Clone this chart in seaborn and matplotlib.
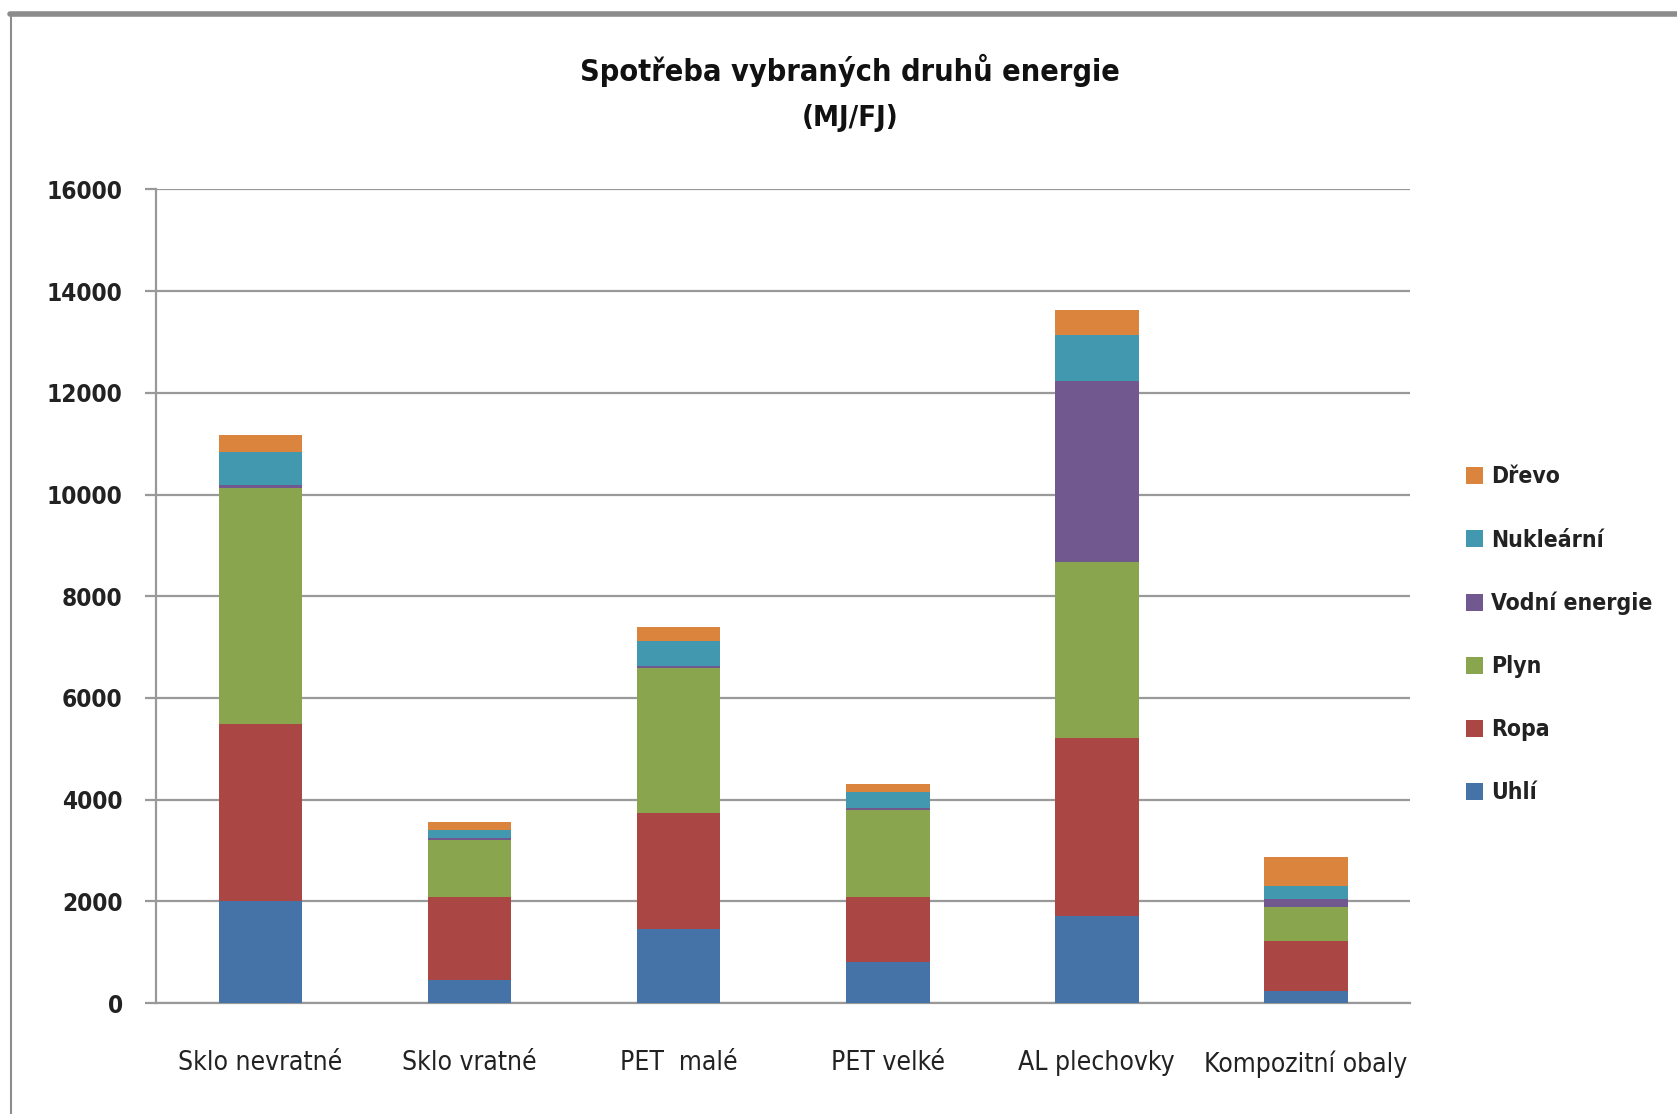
import numpy as np
import pandas as pd
import matplotlib
matplotlib.use("Agg")
import matplotlib.pyplot as plt
import seaborn as sns
from matplotlib.patches import Patch
from matplotlib.lines import Line2D

categories = ["Sklo nevratné", "Sklo vratné", "PET  malé", "PET velké", "AL plechovky", "Kompozitní obaly"]
uhli = [2010, 460, 1450, 800, 1720, 230]
ropa = [3480, 1620, 2280, 1290, 3500, 990]
plyn = [4640, 1125, 2850, 1710, 3450, 675]
vodni = [60, 40, 50, 40, 3560, 155]
nuklearni = [650, 165, 490, 315, 905, 255]
drevo = [330, 150, 265, 150, 495, 560]

series_names = ["Uhlí", "Ropa", "Plyn", "Vodní energie", "Nukleární", "Dřevo"]
series_values = [uhli, ropa, plyn, vodni, nuklearni, drevo]
colors = ["#4572A7", "#AA4643", "#89A54E", "#71588F", "#4198AF", "#DB843D"]
yticks = [0, 2000, 4000, 6000, 8000, 10000, 12000, 14000, 16000]

sns.set_theme(style="white")
plt.rcParams['font.family'] = ['DejaVu Sans']
plt.rcParams['font.stretch'] = 'condensed'

fig = plt.figure(figsize=(16.77, 11.14), dpi=100)
ax = fig.add_axes([0.093, 0.0996, 0.748, 0.7304])

cum = np.zeros(len(categories))
cums = []
for vals in series_values:
    cum = cum + np.array(vals)
    cums.append(cum.copy())

# draw from the tallest cumulative down so lower segments overlay
for name, c, col in reversed(list(zip(series_names, cums, colors))):
    d = pd.DataFrame({"kategorie": categories, "hodnota": c})
    sns.barplot(data=d, x="kategorie", y="hodnota", color=col, width=0.40,
                saturation=1, ax=ax, zorder=3, linewidth=0)

ax.set_ylim(0, 16000)
ax.set_xlim(-0.5, len(categories) - 0.5)
ax.set_yticks(yticks)
ax.set_yticklabels([str(v) for v in yticks], fontsize=17.5, fontweight='bold',
                   color='#222222', fontstretch='condensed')
ax.set_xlabel("")
ax.set_ylabel("")
ax.grid(axis='y', color='#999999', linewidth=1.6, zorder=0)
ax.grid(axis='x', visible=False)
for s in ["top", "right"]:
    ax.spines[s].set_visible(False)
for s in ["left", "bottom"]:
    ax.spines[s].set_color('#999999')
    ax.spines[s].set_linewidth(1.6)

# x ticks at category boundaries, labels at centers
ax.set_xticks(np.arange(len(categories)))
ax.set_xticklabels(categories, fontsize=19, color='#222222', fontstretch='condensed')
ax.tick_params(axis='x', which='major', length=0, pad=34)
ax.set_xticks(np.arange(-0.5, len(categories)), minor=True)
ax.tick_params(axis='x', which='minor', length=10, width=1.6, color='#999999', direction='out')
ax.tick_params(axis='y', length=8, width=1.6, color='#999999', direction='out', pad=16, left=True)

# titles
fig.text(0.507, 0.937, "Spotřeba vybraných druhů energie", ha='center', va='center',
         fontsize=22, fontweight='bold', color='#111111', fontstretch='condensed')
fig.text(0.507, 0.894, "(MJ/FJ)", ha='center', va='center',
         fontsize=21, fontweight='semibold', color='#111111', fontstretch='condensed')

# legend
handles = [Patch(facecolor=c, edgecolor='none') for c in reversed(colors)]
labels = list(reversed(series_names))
leg = fig.legend(handles, labels, loc='center left', bbox_to_anchor=(0.862, 0.43),
                 frameon=False, handlelength=0.75, handleheight=0.75,
                 handletextpad=0.35, labelspacing=1.75,
                 prop={'size': 16.5, 'weight': 'bold', 'stretch': 'condensed'})
for t in leg.get_texts():
    t.set_color('#222222')

# chart border (top and left edges visible)
fig.add_artist(Line2D([0.006, 1.0], [0.9875, 0.9875], transform=fig.transFigure,
                      color='#8c8c8c', linewidth=4))
fig.add_artist(Line2D([0.0066, 0.0066], [0.0, 0.9875], transform=fig.transFigure,
                      color='#8c8c8c', linewidth=1.5))

fig.savefig("out.png", dpi=100)
